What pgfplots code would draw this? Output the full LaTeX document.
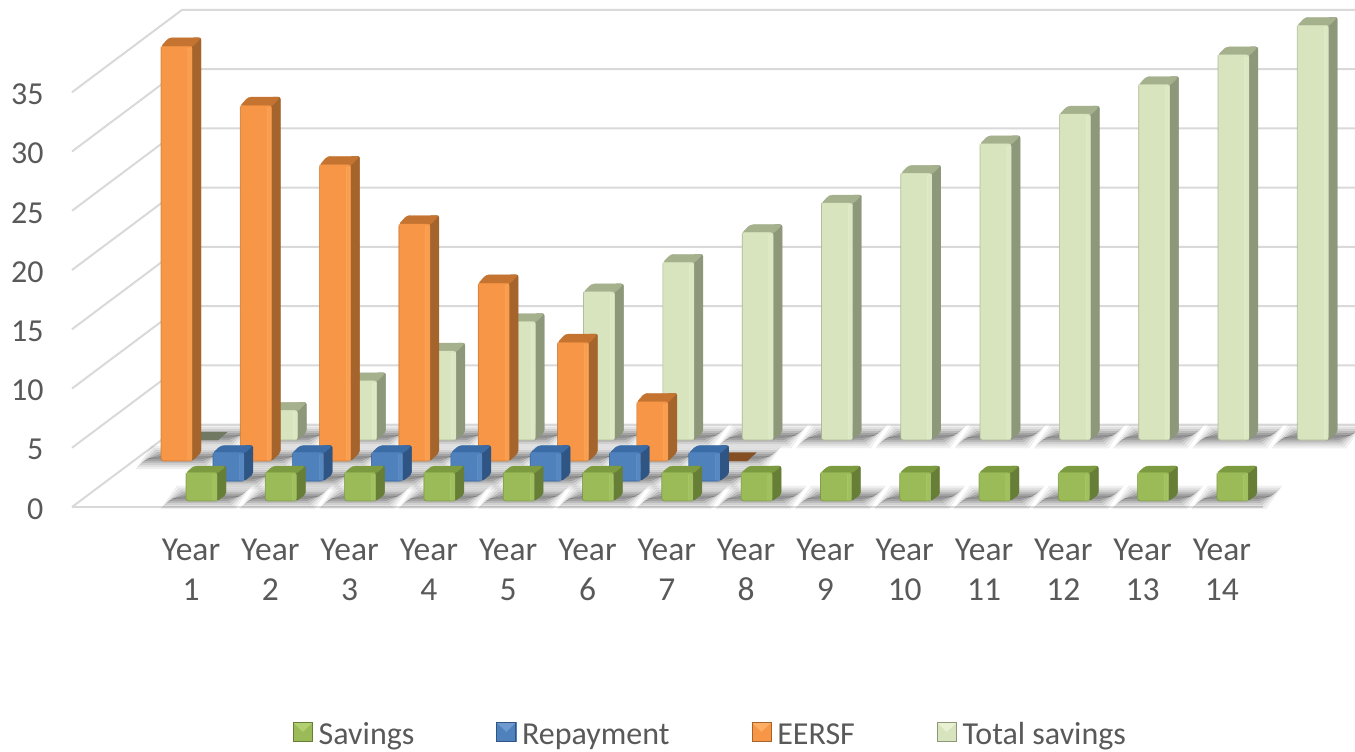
\documentclass[border=0pt]{standalone}
\usepackage{fontspec}
\setmainfont{Carlito}
\usepackage{pgfplots}
\usepackage{pgfplotstable}
\pgfplotsset{compat=1.18}

\definecolor{txt}{HTML}{595959}
\definecolor{gridc}{HTML}{D9D9D9}
\definecolor{gF}{HTML}{9BBB59}\definecolor{gS}{HTML}{667E36}\definecolor{gT}{HTML}{7C9A40}\definecolor{gL}{HTML}{B2CF72}
\definecolor{bF}{HTML}{4F81BD}\definecolor{bS}{HTML}{2F5585}\definecolor{bT}{HTML}{3B6CA6}\definecolor{bL}{HTML}{6E9AD0}
\definecolor{oF}{HTML}{F79646}\definecolor{oS}{HTML}{A5642C}\definecolor{oT}{HTML}{C47430}\definecolor{oL}{HTML}{FFAE66}
\definecolor{tF}{HTML}{D7E4BD}\definecolor{tS}{HTML}{8D977A}\definecolor{tT}{HTML}{A5B08D}\definecolor{tL}{HTML}{E8F2D2}

\pgfplotstableread{
x v
1 2.4
2 2.4
3 2.4
4 2.4
5 2.4
6 2.4
7 2.4
8 2.4
9 2.4
10 2.4
11 2.4
12 2.4
13 2.4
14 2.4
}\savings
\pgfplotstableread{
x v
1 2.4
2 2.4
3 2.4
4 2.4
5 2.4
6 2.4
7 2.4
}\repayment
\pgfplotstableread{
x v
1 35
2 30
3 25
4 20
5 15
6 10
7 5
8 0
}\eersf
\pgfplotstableread{
x v
1 0
2 2.5
3 5
4 7.5
5 10
6 12.5
7 15
8 17.5
9 20
10 22.5
11 25
12 27.5
13 30
14 32.5
15 35
}\totalsav

\pgfdeclareplotmark{nil}{}

% one soft layer of a bar's floor shadow
\newcommand\shlayer[2]{%
  \fill[black,opacity=#2] (-20-#1,-\h-3-#1) -- (-4-#1,-\h+10+#1) -- (60+#1,-\h+10+#1) -- (44+#1,-\h-3-#1) -- cycle;}

% draws one 3D bar; the origin is the front top left corner of the bar
\newcommand\drawbar[5]{%
  \pgfmathsetmacro\h{\val*11.85}%
  \begin{scope}[x=1pt,y=1pt]
    \shlayer{5}{.05}\shlayer{3}{.06}\shlayer{1}{.08}\shlayer{-1}{.10}\shlayer{-3}{.12}\shlayer{-5}{.12}
    \ifdim\val pt<0.1pt
      \fill[#2!80!black] (0,0) -- (9,#5) -- (40,#5) -- (31,0) -- cycle;
    \else
      \fill[#2,rounded corners=2pt] (31,0) -- (31,#5) -- (40,#5) -- (40,#5-\h) -- (31,-\h) -- cycle;
      \fill[#3,rounded corners=3pt] (-0.5,-1) -- (8,#5) -- (40,#5) -- (31,-1) -- cycle;
      \fill[#1,rounded corners=2.5pt] (0,0) rectangle (31,-\h);
      \fill[#4,opacity=.3] (26.5,-2) rectangle (30,-\h+1);
      \draw[#2,line width=.7pt,rounded corners=2.5pt,opacity=.55] (0,0) -- (0,-\h) -- (31,-\h);
    \fi
  \end{scope}}

\newcommand\drawkey[3]{%
  \fill[#1] (0,-7pt) rectangle (19pt,12pt);
  \fill[#3] (0,12pt) -- (19pt,12pt) -- (9.5pt,3pt) -- cycle;
  \draw[#2,line width=.7pt] (0,-7pt) rectangle (19pt,12pt);}

\pgfplotsset{
  bar3d/.style n args={5}{
    scatter, only marks, mark=nil,
    visualization depends on={\thisrow{v} \as \val},
    scatter/@pre marker code/.code={\drawbar{#1}{#2}{#3}{#4}{#5}},
    scatter/@post marker code/.code={},
    legend image code/.code={\drawkey{#1}{#2}{#4}}
  },
  wall/.style={gridc,line width=2pt,forget plot,no markers}
}

\begin{document}
\begin{tikzpicture}
\begin{axis}[
  scale only axis, width=1355pt, height=751pt,
  xmin=-1.4086, xmax=15.678, ymin=-20.591, ymax=42.785,
  clip=true, clip marker paths=true,
  axis line style={draw=none},
  tick style={draw=none},
  xtick={1,...,14},
  xticklabels={{Year\\1},{Year\\2},{Year\\3},{Year\\4},{Year\\5},{Year\\6},{Year\\7},{Year\\8},{Year\\9},{Year\\10},{Year\\11},{Year\\12},{Year\\13},{Year\\14}},
  ytick={0,5,...,35},
  /pgf/number format/assume math mode=true,
  tick label style={text=txt},
  xticklabel style={align=center,anchor=north,yshift=216pt,font=\fontsize{33.5}{40}\selectfont},
  yticklabel style={anchor=east,xshift=47pt,yshift=-2pt,font=\fontsize{32}{38}\selectfont},
  reverse legend,
  legend columns=4,
  legend style={
    draw=none,fill=none,text=txt,font=\fontsize{32}{36}\selectfont,
    at={(axis cs:7.551,-19.2)},anchor=center,
    /tikz/every odd column/.append style={column sep=4pt},
    /tikz/every even column/.append style={column sep=80pt},
  },
]
% back wall, side wall and floor
\addplot[wall] coordinates {(-0.5006,0) (0.8865,6.95) (15.678,6.95)};
\addplot[wall] coordinates {(-0.5006,5) (0.8865,11.95) (15.678,11.95)};
\addplot[wall] coordinates {(-0.5006,10) (0.8865,16.95) (15.678,16.95)};
\addplot[wall] coordinates {(-0.5006,15) (0.8865,21.95) (15.678,21.95)};
\addplot[wall] coordinates {(-0.5006,20) (0.8865,26.95) (15.678,26.95)};
\addplot[wall] coordinates {(-0.5006,25) (0.8865,31.95) (15.678,31.95)};
\addplot[wall] coordinates {(-0.5006,30) (0.8865,36.95) (15.678,36.95)};
\addplot[wall] coordinates {(-0.5006,35) (0.8865,41.95) (15.678,41.95)};
\addplot[wall] coordinates {(-0.5006,0) (14.518,0)};

% rows from back to front
\addplot[bar3d={tF}{tS}{tT}{tL}{8}] table[x expr=\thisrow{x}-0.05,y expr=\thisrow{v}+5.65] {\totalsav};
\addlegendentry{Total savings}
\addplot[bar3d={oF}{oS}{oT}{oL}{8.5}] table[x expr=\thisrow{x}-0.378,y expr=\thisrow{v}+3.88] {\eersf};
\addlegendentry{EERSF}
\addplot[bar3d={bF}{bS}{bT}{bL}{7}] table[x expr=\thisrow{x}+0.277,y expr=\thisrow{v}+2.19] {\repayment};
\addlegendentry{Repayment}
\addplot[bar3d={gF}{gS}{gT}{gL}{6.5}] table[x expr=\thisrow{x}-0.063,y expr=\thisrow{v}+0.51] {\savings};
\addlegendentry{Savings}
\end{axis}
\end{tikzpicture}
\end{document}
